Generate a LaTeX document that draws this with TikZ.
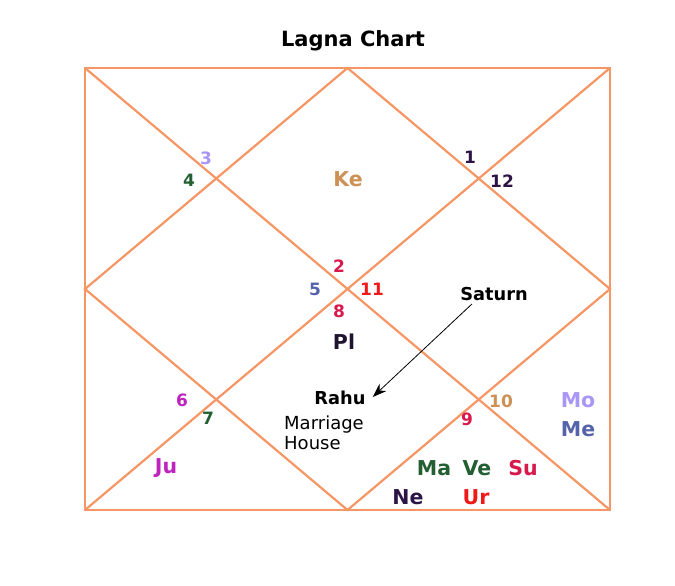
\documentclass[tikz,border=0pt]{standalone}
\usepackage{fontspec}
\setmainfont{DejaVu Sans}
\usepackage{tikz}
\usetikzlibrary{arrows.meta, positioning, calc}
\definecolor{chartline}{RGB}{245,150,100}
\definecolor{mydark}{RGB}{30,20,45}
\definecolor{mynavy}{RGB}{45,20,70}
\definecolor{mygreen}{RGB}{35,95,50}
\definecolor{mytan}{RGB}{205,145,85}
\definecolor{mycrimson}{RGB}{215,25,75}
\definecolor{myred}{RGB}{240,25,25}
\definecolor{myslate}{RGB}{85,100,170}
\definecolor{mylilac}{RGB}{170,150,245}
\definecolor{mymagenta}{RGB}{190,35,190}
\tikzset{
  line/.style={draw=chartline, line width=2.2pt, line join=miter},
  arrow/.style={draw=black, -{Stealth[length=14pt, width=10pt]}, line width=0.8pt},
  num/.style={font=\fontsize{17}{17}\selectfont\bfseries, inner sep=0pt},
  planet/.style={font=\fontsize{20.5}{20.5}\selectfont\bfseries, inner sep=0pt},
  note/.style={font=\fontsize{17.8}{17.8}\selectfont\bfseries, inner sep=0pt},
  plain/.style={font=\fontsize{18}{20}\selectfont, align=left, inner sep=0pt}
}
\begin{document}
\begin{tikzpicture}[x=1pt, y=-1pt]
  \useasboundingbox (0,0) rectangle (675,586);
  \fill[white] (0,0) rectangle (675,586);

  \coordinate (tl) at (85,68);
  \coordinate (tr) at (610,68);
  \coordinate (bl) at (85,510);
  \coordinate (br) at (610,510);
  \coordinate (tm) at ($(tl)!0.5!(tr)$);
  \coordinate (bm) at ($(bl)!0.5!(br)$);
  \coordinate (lm) at ($(tl)!0.5!(bl)$);
  \coordinate (rm) at ($(tr)!0.5!(br)$);

  \draw [line] (tl) rectangle (br);
  \draw [line] (tl) -- (br);
  \draw [line] (tr) -- (bl);
  \draw [line] (tm) -- (rm) -- (bm) -- (lm) -- cycle;

  \node [note, font=\fontsize{21}{21}\selectfont\bfseries] (title) at (353,41) {Lagna Chart};

  \node [num, text=mylilac] (h3) at (206,158) {3};
  \node [num, text=mygreen] (h4) at (189,180) {4};
  \node [num, text=mynavy] (h1) at (470,157) {1};
  \node [num, text=mynavy] (h12) at (502,181) {12};
  \node [num, text=mycrimson] (h2) at (339,266) {2};
  \node [num, text=myslate] (h5) at (315,289) {5};
  \node [num, text=myred] (h11) at (372,289) {11};
  \node [num, text=mycrimson] (h8) at (339,311) {8};
  \node [num, text=mymagenta] (h6) at (182,400) {6};
  \node [num, text=mygreen] (h7) at (208,418) {7};
  \node [num, text=mytan] (h10) at (501,401) {10};
  \node [num, text=mycrimson] (h9) at (467,419) {9};

  \node [planet, text=mytan] (ke) at (348,179) {Ke};
  \node [planet, text=mydark] (pl) at (344,342) {Pl};
  \node [planet, text=mymagenta] (ju) at (166,468) {Ju};
  \node [planet, text=mylilac] (mo) at (578,400) {Mo};
  \node [planet, text=myslate] (me) at (578,429) {Me};
  \node [planet, text=mygreen] (ma) at (434,468) {Ma};
  \node [planet, text=mygreen] (ve) at (477,468) {Ve};
  \node [planet, text=mycrimson] (su) at (523,468) {Su};
  \node [planet, text=mynavy] (ne) at (408,497) {Ne};
  \node [planet, text=myred] (ur) at (476,497) {Ur};

  \node [note] (saturn) at (494,294) {Saturn};
  \node [note] (rahu) at (340,398) {Rahu};
  \node [plain, anchor=north west] (house) at (284,416) {Marriage\\House};

  \draw [arrow] ($(saturn.south)+(-22,3)$) -- ($(rahu.east)+(7,-1)$);
\end{tikzpicture}
\end{document}
